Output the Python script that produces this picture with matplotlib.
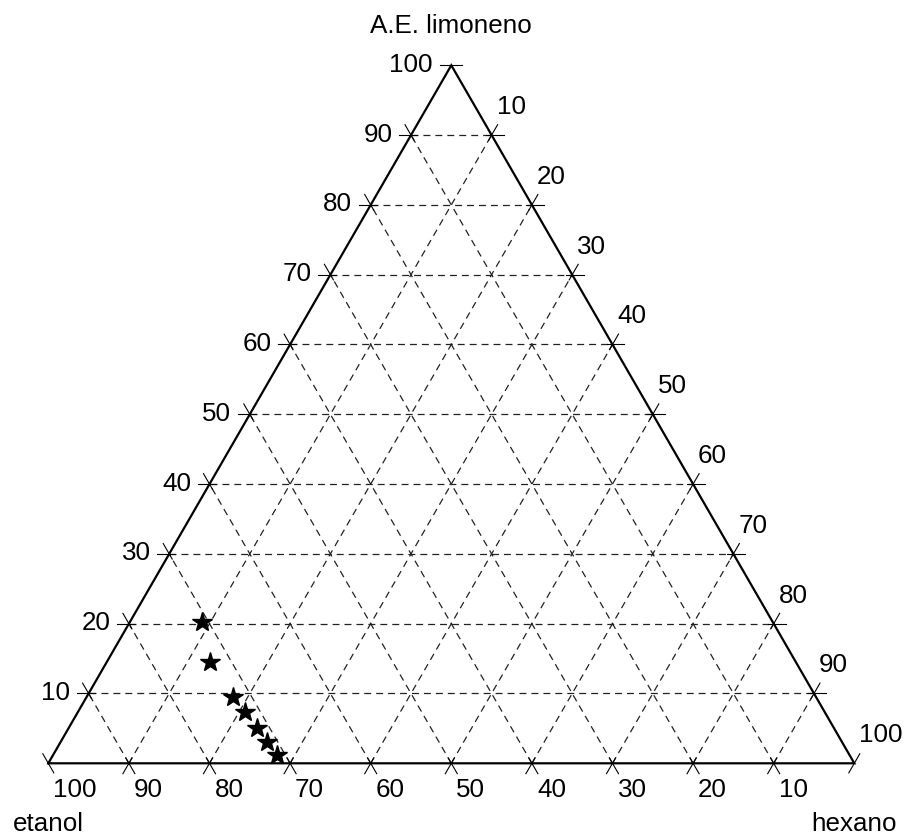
import numpy as np
import matplotlib
matplotlib.use("Agg")
import matplotlib.pyplot as plt

plt.rcParams['font.family'] = ['Liberation Sans', 'DejaVu Sans']
plt.rcParams['lines.scale_dashes'] = False

# composition of the measured points (% A.E. limoneno, % hexano; etanol is the rest)
limoneno = [20.3, 14.5, 9.5, 7.3, 5.0, 3.0, 1.2]
hexano = [8.9, 12.8, 18.2, 20.8, 23.4, 25.6, 27.8]

tick_values = [10, 20, 30, 40, 50, 60, 70, 80, 90, 100]
corner_names = ["etanol", "hexano", "A.E. limoneno"]

S3 = np.sqrt(3) / 2
PX = 1 / 806.0          # one pixel in data units


def tern(l, h):
    # l, h in percent -> cartesian (left corner etanol, right hexano, top limoneno)
    l = np.asarray(l, dtype=float) / 100
    h = np.asarray(h, dtype=float) / 100
    return h + l / 2, l * S3


fig = plt.figure(figsize=(9.08, 8.34), dpi=100)
ax = fig.add_axes([0, 0, 1, 1])
ax.set_xlim(-48.3 * PX, (908 - 48.3) * PX)
ax.set_ylim(-70.7 * PX, (834 - 70.7) * PX)
ax.axis("off")

grid_kw = dict(color="#222222", lw=0.9, dashes=(5, 3.6), zorder=1)
for v in tick_values[:-1]:
    # constant limoneno (horizontal)
    x, y = tern([v, v], [0, 100 - v])
    ax.plot(x, y, **grid_kw)
    # constant hexano (parallel to left edge)
    x, y = tern([0, 100 - v], [v, v])
    ax.plot(x, y, **grid_kw)
    # constant etanol (parallel to right edge)
    x, y = tern([0, 100 - v], [100 - v, 0])
    ax.plot(x, y, **grid_kw)

# triangle outline
x, y = tern([0, 0, 100, 0], [0, 100, 0, 0])
ax.plot(x, y, color="black", lw=1.6, solid_joinstyle="miter", zorder=3)

up_left = np.array([-0.5, S3])
up_right = np.array([0.5, S3])
down_left = np.array([-0.5, -S3])
down_right = np.array([0.5, -S3])
left = np.array([-1.0, 0.0])
right = np.array([1.0, 0.0])


def tick(p, d, out=12, inn=6):
    a = p - d * inn * PX
    b = p + d * out * PX
    ax.plot([a[0], b[0]], [a[1], b[1]], color="black", lw=0.8, zorder=2)


fs = 18.7
for v in tick_values:
    # left axis: A.E. limoneno
    p = np.array(tern(v, 0))
    if v == 100:
        tick(p, left, 11, 11)
    else:
        tick(p, left)
        tick(p, up_left)
    ax.text(p[0] - 18.5 * PX, p[1] - 6.5 * PX, str(v), ha="right", va="baseline", fontsize=fs)

    # right axis: hexano
    p = np.array(tern(100 - v, v))
    if v == 100:
        tick(p, up_right, 11, 11)
    else:
        tick(p, right)
        tick(p, up_right)
    ax.text(p[0] + 5 * PX, p[1] + 21 * PX, str(v), ha="left", va="baseline", fontsize=fs)

    # bottom axis: etanol
    p = np.array(tern(0, 100 - v))
    if v == 100:
        tick(p, down_right, 11, 11)
    else:
        tick(p, down_right)
        tick(p, down_left)
    ax.text(p[0] + 5 * PX, p[1] - 34 * PX, str(v), ha="left", va="baseline", fontsize=fs)

# corner names
ax.text(0, -67.5 * PX, corner_names[0], ha="center", va="baseline", fontsize=fs)
ax.text(1, -67.5 * PX, corner_names[1], ha="center", va="baseline", fontsize=fs)
ax.text(0.5, S3 + 32.5 * PX, corner_names[2], ha="center", va="baseline", fontsize=fs)

# data points
x, y = tern(limoneno, hexano)
ax.plot(x, y, linestyle="none", marker="*", markersize=15, color="black", zorder=4)

fig.savefig("out.png", dpi=100)
